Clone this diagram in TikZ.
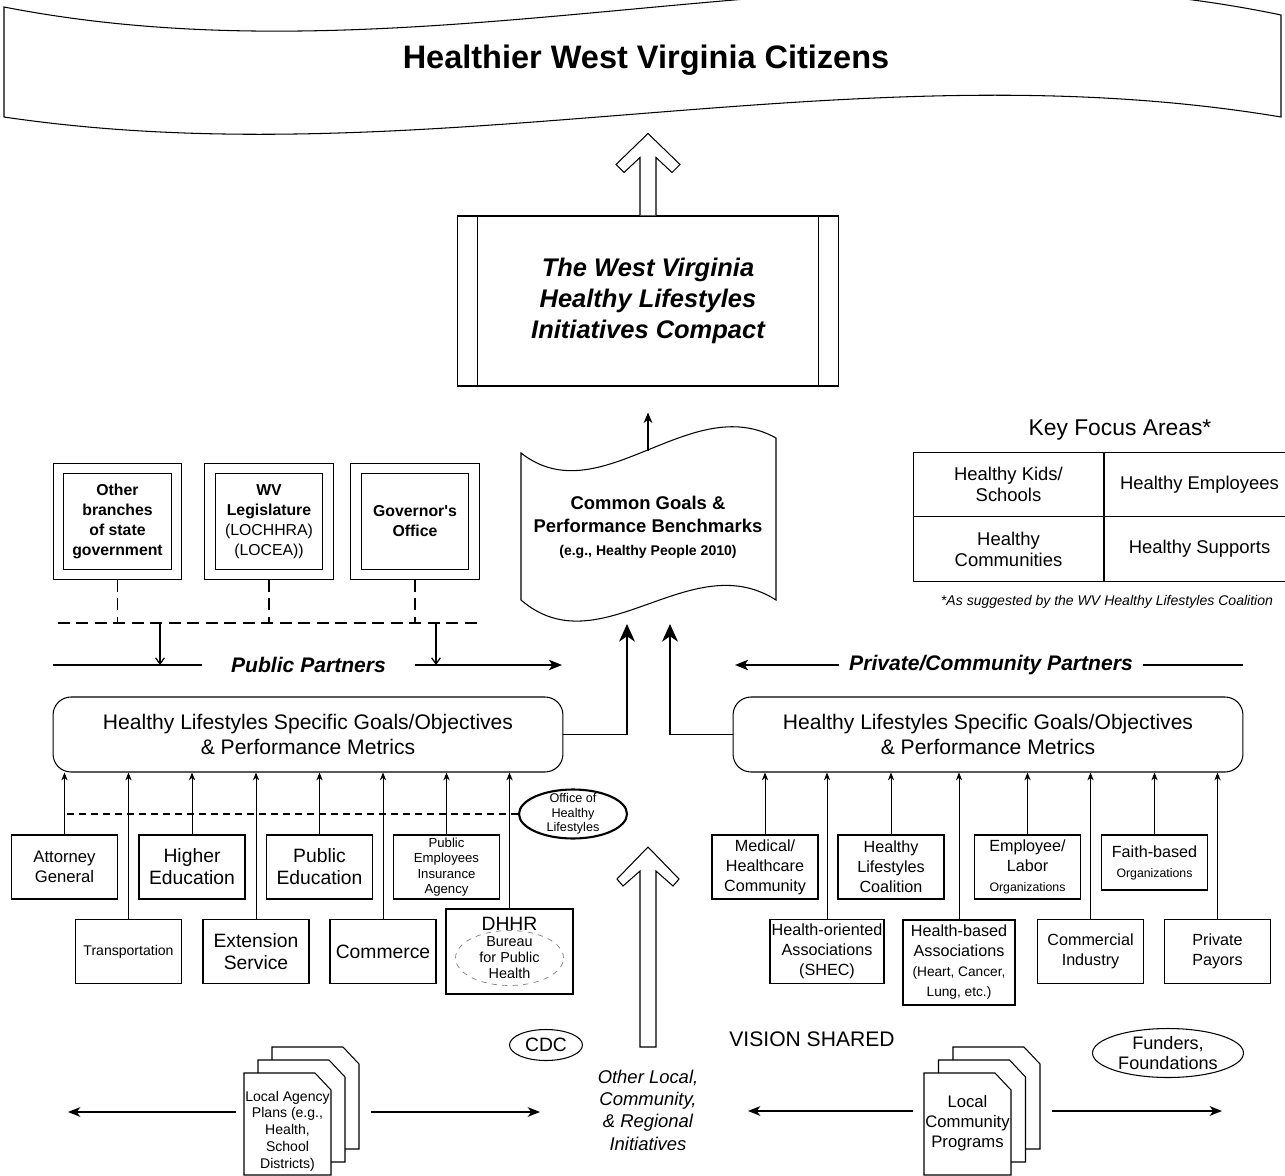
\documentclass[tikz,border=0pt]{standalone}
\usepackage{fontspec}
\setmainfont{Liberation Sans}
\usetikzlibrary{arrows.meta, positioning, shapes.geometric}

\newcommand{\fsz}[2]{\fontsize{#1}{#2}\selectfont}

\begin{document}
\begin{tikzpicture}[
            x=0.02cm, y=-0.02cm,
            line width=0.6pt,
            orgbox/.style={
                draw,
                fill=white,
                align=center,
                inner sep=1pt,
                minimum width=2.12cm,
                minimum height=1.28cm,
                font=\fsz{11}{12.5}
            },
            smallorg/.style={orgbox, font=\fsz{9.2}{11.4}},
            govbox/.style={
                draw,
                double,
                double distance=0.195cm,
                outer sep=0.11cm,
                align=center,
                minimum width=2.36cm,
                minimum height=2.12cm,
                font=\bfseries\fsz{9}{11.4}
            },
            goalbox/.style={
                draw,
                rounded corners=0.36cm,
                align=center,
                minimum width=10.2cm,
                minimum height=1.5cm,
                font=\fsz{12}{14.2}
            },
            kfacell/.style={draw, align=center, minimum width=3.82cm, minimum height=1.29cm, font=\fsz{10.5}{12}},
            partner/.style={font=\bfseries\itshape\fsz{12}{14}},
            oval/.style={draw, ellipse, inner sep=0pt},
            ovaltext/.style={align=center, inner sep=0pt},
            feed/.style={-{Stealth[length=4.5pt,width=3.6pt]}, line width=0.5pt},
            mainarrow/.style={-{Stealth[length=10pt,width=9pt,inset=3pt]}, line width=1.1pt},
            sidearrow/.style={-{Stealth[length=7.5pt,width=6pt,inset=2pt]}, line width=0.9pt},
            flowarrow/.style={-{Stealth[length=7pt,width=5.5pt,inset=2pt]}, line width=0.9pt},
            droparrow/.style={-{Straight Barb[length=3.5pt,width=5pt]}, line width=0.7pt},
            govdash/.style={dash pattern=on 0.24cm off 0.13cm, line width=0.7pt},
            ohldash/.style={dash pattern=on 0.14cm off 0.1cm, line width=0.6pt},
            hollow/.style={draw, fill=white, line width=0.6pt},
            docpage/.style={draw, fill=white, line width=0.6pt}
        ]
            \useasboundingbox (0,0) rectangle (1285,1176);

            % banner
            \draw (4,7) .. controls (430,90) and (850,-75) .. (1281,15) -- (1281,117)
                .. controls (850,45) and (430,180) .. (4,117) -- cycle;
            \node[font=\bfseries\fsz{18.5}{22}] (citizens) at (646,60) {Healthier West Virginia Citizens};

            % compact
            \node[draw, minimum width=7.64cm, minimum height=3.4cm, align=center,
                font=\bfseries\itshape\fsz{14.5}{17.6}] (compact) at (648,301)
                {The West Virginia\\Healthy Lifestyles\\Initiatives Compact};
            \draw ([xshift=0.42cm]compact.north west) -- ([xshift=0.42cm]compact.south west);
            \draw ([xshift=-0.42cm]compact.north east) -- ([xshift=-0.42cm]compact.south east);
            \draw[hollow, shift={(compact.north)}] (-8,0) -- (-8,-58) -- (-24,-43) -- (-32,-51)
                -- (0,-82) -- (32,-51) -- (24,-43) -- (8,-58) -- (8,0);

            % common goals
            \draw (521,453) .. controls (600,515) and (690,390) .. (776,438) -- (776,600)
                .. controls (690,545) and (600,668) .. (521,600) -- cycle;
            \node[align=center, font=\bfseries\fsz{10.5}{13}] (goals) at (648,527)
                {Common Goals \&\\Performance Benchmarks\\{\fsz{8}{10}(e.g., Healthy People 2010)}};
            \coordinate (goalstop) at (648,451);
            \coordinate (goalsinL) at (627,624);
            \coordinate (goalsinR) at (670,624);
            \draw[-{Stealth[length=6pt,width=5pt]}, line width=0.8pt, shorten >=0.52cm] (goalstop) -- (compact.south);

            % key focus areas
            \node[font=\fsz{13}{15}] (kfatitle) at (1120,430) {Key Focus Areas*};
            \node[kfacell] (kids) at (1008.5,484.5) {Healthy Kids/\\Schools};
            \node[kfacell] (employees) at (1199.5,484.5) {Healthy Employees};
            \node[kfacell] (communities) at (1008.5,549) {Healthy\\Communities};
            \node[kfacell] (supports) at (1199.5,549) {Healthy Supports};
            \node[font=\itshape\fsz{8}{10}] (kfanote) at (1107,602) {*As suggested by the WV Healthy Lifestyles Coalition};

            % public partners
            \node[govbox] (other) at (117.5,521.5) {Other\\branches\\of state\\government};
            \node[govbox] (legis) at (269,521.5) {WV\\Legislature\\{\mdseries (LOCHHRA)}\\{\mdseries (LOCEA))}};
            \node[govbox] (governor) at (415,521.5) {Governor\textquotesingle s\\Office};
            \coordinate (busL) at (58,623);
            \coordinate (busR) at (480,623);
            \draw[govdash] (busL) -- (busR);
            \foreach \g in {other, legis, governor}
                \draw[govdash] (\g.south) -- (\g |- busL);

            \node[partner, inner xsep=0.58cm] (public) at (308.5,665) {Public Partners};
            \coordinate (pubL) at (53,665);
            \coordinate (pubR) at (562,665);
            \draw[line width=0.8pt] (pubL) -- (public.west);
            \draw[sidearrow] (public.east) -- (pubR);
            \coordinate (drop1) at (160,623);
            \coordinate (drop2) at (436,623);
            \draw[droparrow] (drop1) -- (drop1 |- pubL);
            \draw[droparrow] (drop2) -- (drop2 |- pubL);

            % private partners
            \node[partner, inner xsep=0.2cm] (private) at (991,665) {Private/Community Partners};
            \coordinate (privL) at (735,665);
            \coordinate (privR) at (1243,665);
            \draw[sidearrow] (private.west) -- (privL);
            \draw[line width=0.8pt] (private.east) -- (privR);

            % specific goals
            \node[goalbox] (leftgoals) at (308,734.5) {Healthy Lifestyles Specific Goals/Objectives\\\& Performance Metrics};
            \node[goalbox] (rightgoals) at (988,734.5) {Healthy Lifestyles Specific Goals/Objectives\\\& Performance Metrics};
            \draw[mainarrow] (leftgoals.east) -| (goalsinL);
            \draw[mainarrow] (rightgoals.west) -| (goalsinR);

            % public agencies
            \node[orgbox, font=\fsz{9.5}{11.2}] (att) at (64.5,867) {Attorney\\General};
            \node[orgbox, font=\fsz{8}{10}] (trans) at (128.5,951.5) {Transportation};
            \node[orgbox] (higher) at (192,867) {Higher\\Education};
            \node[orgbox] (ext) at (256,951.5) {Extension\\Service};
            \node[orgbox] (pubed) at (319.5,867) {Public\\Education};
            \node[orgbox] (comm) at (383,951.5) {Commerce};
            \node[orgbox, font=\fsz{7.5}{8.8}] (peia) at (446.5,867) {Public\\Employees\\Insurance\\Agency};
            \node[orgbox, minimum width=2.54cm, minimum height=1.7cm] (dhhr) at (509.5,951.5) {};
            \node[font=\fsz{11}{13}, below=0.04cm of dhhr.north] (dhhrlabel) {DHHR};
            \node[oval, dashed, draw=gray, line width=0.4pt, minimum width=2.16cm, minimum height=1.1cm] (bph) at (509.5,958) {};
            \node[ovaltext, font=\fsz{8.2}{9.1}] (bphtext) at (bph) {Bureau\\for Public\\Health};

            \node[oval, line width=1.2pt, minimum width=2.16cm, minimum height=0.98cm] (ohl) at (573,814) {};
            \node[ovaltext, font=\fsz{7.2}{8.2}] (ohltext) at (ohl) {Office of\\Healthy\\Lifestyles};
            \draw[ohldash] (ohl.west) -- (ohl.west -| att.north);

            \foreach \n in {att, trans, higher, ext, pubed, comm, peia, dhhr}
                \draw[feed] (\n.north) -- (\n.north |- leftgoals.south);

            % private partners boxes
            \node[smallorg] (med) at (765,867) {Medical/\\Healthcare\\Community};
            \node[smallorg, minimum width=2.24cm] (hoa) at (827,951.5) {Health-oriented\\Associations\\(SHEC)};
            \node[smallorg] (hlc) at (891,867) {Healthy\\Lifestyles\\Coalition};
            \node[smallorg, minimum width=2.24cm, minimum height=1.7cm] (hba) at (959,962.5)
                {Health-based\\Associations\\{\fsz{7.8}{9.5}(Heart, Cancer,}\\{\fsz{7.8}{9.5}Lung, etc.)}};
            \node[smallorg] (elo) at (1027.5,867) {Employee/\\Labor\\{\fsz{7}{9}Organizations}};
            \node[smallorg] (ci) at (1090.5,951.5) {Commercial\\Industry};
            \node[smallorg, minimum height=1.1cm] (fbo) at (1154.5,862.5) {Faith-based\\{\fsz{7}{9}Organizations}};
            \node[smallorg] (pp) at (1217.5,951.5) {Private\\Payors};

            \foreach \n in {med, hoa, hlc, hba, elo, ci, fbo, pp}
                \draw[feed] (\n.north) -- (\n.north |- rightgoals.south);

            % local level
            \coordinate (visionbase) at (648,1047);
            \draw[hollow, shift={(visionbase)}] (-8,0) -- (-8,-176) -- (-25,-161) -- (-31,-168)
                -- (0,-200) -- (31,-168) -- (25,-161) -- (8,-176) -- (8,0) -- cycle;
            \node[align=center, font=\itshape\fsz{10.5}{12.7}] (otherlocal) at (648,1110)
                {Other Local,\\Community,\\\& Regional\\Initiatives};

            \node[oval, minimum width=1.46cm, minimum height=0.62cm] (cdc) at (546,1045) {};
            \node[ovaltext, font=\fsz{11}{13}] (cdctext) at (cdc) {CDC};
            \node[font=\fsz{12}{14}] (vision) at (812,1039) {VISION SHARED};
            \node[oval, minimum width=3.02cm, minimum height=0.98cm] (funders) at (1168,1053) {};
            \node[ovaltext, font=\fsz{10.3}{11.4}] (funderstext) at (funders) {Funders,\\Foundations};

            \foreach \d in {2,1,0}
                \draw[docpage, shift={(\d*14,-\d*13)}] (244,1073) -- (315,1073) -- (331,1090) -- (331,1175) -- (244,1175) -- cycle;
            \node[align=center, inner sep=0.5pt, font=\fsz{8}{9.5}] (agency) at (287.5,1131)
                {Local Agency\\Plans (e.g.,\\Health,\\School\\Districts)};
            \coordinate (agencyL) at (68,1112);
            \coordinate (agencyR) at (540,1112);
            \draw[flowarrow, shorten <=0.16cm] (agency.west |- agencyL) -- (agencyL);
            \draw[flowarrow, shorten <=0.8cm] (agency.east |- agencyR) -- (agencyR);

            \foreach \d in {2,1,0}
                \draw[docpage, shift={(\d*14.5,-\d*13)}] (924,1073) -- (995,1073) -- (1011,1090) -- (1011,1175) -- (924,1175) -- cycle;
            \node[align=center, inner sep=0.5pt, font=\fsz{9.5}{11.4}] (programs) at (967.5,1123)
                {Local\\Community\\Programs};
            \coordinate (programsL) at (748,1111);
            \coordinate (programsR) at (1222,1111);
            \draw[flowarrow, shorten <=0.22cm] (programs.west |- programsL) -- (programsL);
            \draw[flowarrow, shorten <=0.82cm] (programs.east |- programsR) -- (programsR);
        \end{tikzpicture}
\end{document}
